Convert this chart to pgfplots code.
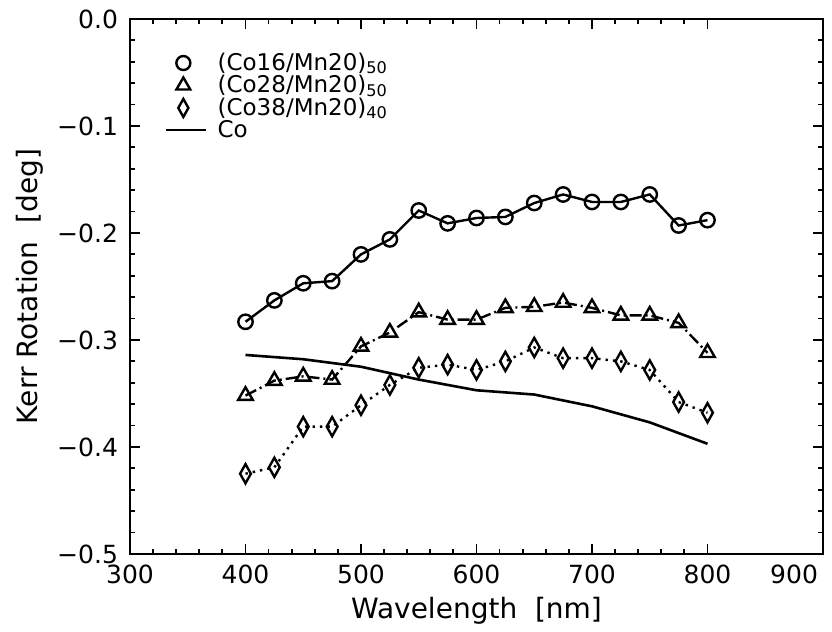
\documentclass[border=0pt]{standalone}
\usepackage{fontspec}
\setmainfont{DejaVu Sans}
\usepackage{pgfplots}
\pgfplotsset{compat=1.18}
\usetikzlibrary{calc}

\begin{document}
\begin{tikzpicture}
\begin{axis}[
  scale only axis,
  width=346.5pt, height=267.5pt,
  xmin=300, xmax=900, ymin=-0.5, ymax=0,
  xtick={300,400,500,600,700,800},
  xticklabels={300,400,500,600,700,800},
  extra x ticks={900},
  extra x tick labels={900},
  extra x tick style={xticklabel style={anchor=north east, xshift=1pt}},
  ytick={-0.5,-0.4,-0.3,-0.2,-0.1,0},
  yticklabels={−0.5,−0.4,−0.3,−0.2,−0.1,0.0},
  minor x tick num=4, minor y tick num=4,
  tick align=inside,
  major tick length=5pt, minor tick length=2.5pt,
  every tick/.style={black, line width=0.9pt},
  axis line style={line width=1.1pt},
  tick label style={font=\fontsize{12.5}{14}\selectfont},
  xticklabel style={yshift=-2pt},
  yticklabel style={xshift=-2.5pt},
  xlabel={Wavelength\ \ [nm]},
  ylabel={Kerr Rotation\ \ [deg]},
  xlabel style={font=\fontsize{14}{16}\selectfont, at={(axis description cs:0.5,0)}, anchor=center, yshift=-28.5pt},
  ylabel style={font=\fontsize{14}{16}\selectfont, at={(axis description cs:-0.144,0.5)}, anchor=center},
  legend style={draw=none, fill=none, at={(axis description cs:0.05,0.945)}, anchor=north west,
    font=\fontsize{11.5}{12}\selectfont, row sep=-3pt, inner sep=0pt},
  legend cell align=left,
  legend image code/.code={\draw[mark repeat=2,mark phase=2] plot coordinates {(0pt,0pt) (8.5pt,0pt) (20pt,0pt)};},
]

% legend entries
\addlegendimage{only marks, black, mark=o, mark size=3.5pt, mark options={line width=1.2pt}}
\addlegendentry{\hspace{3pt}(Co16/Mn20)\textsubscript{50}}
\addlegendimage{only marks, black, mark=triangle, mark size=4pt, mark options={line width=1.2pt}}
\addlegendentry{\hspace{3pt}(Co28/Mn20)\textsubscript{50}}
\addlegendimage{only marks, black, mark=diamond, mark size=4.5pt, mark options={line width=1.2pt, xscale=0.75}}
\addlegendentry{\hspace{3pt}(Co38/Mn20)\textsubscript{40}}
\addlegendimage{black, line width=1.3pt}
\addlegendentry{\hspace{3pt}Co}

% (Co16/Mn20)50
\addplot[forget plot, black, line width=1.2pt, mark=o, mark size=3.6pt, mark options={solid, line width=1.2pt}] coordinates {
(400,-0.283) (425,-0.263) (450,-0.247) (475,-0.245) (500,-0.220) (525,-0.206)
(550,-0.179) (575,-0.191) (600,-0.186) (625,-0.185) (650,-0.172) (675,-0.164)
(700,-0.171) (725,-0.171) (750,-0.164) (775,-0.193) (800,-0.188)
};

% (Co28/Mn20)50
\addplot[forget plot, black, line width=1.2pt, dash pattern=on 6pt off 2pt on 1pt off 2pt,
  mark=triangle, mark size=4.2pt, mark options={solid, line width=1.2pt}] coordinates {
(400,-0.352) (425,-0.338) (450,-0.334) (475,-0.337) (500,-0.306) (525,-0.293)
(550,-0.274) (575,-0.281) (600,-0.281) (625,-0.270) (650,-0.269) (675,-0.265)
(700,-0.270) (725,-0.277) (750,-0.277) (775,-0.284) (800,-0.312)
};

% (Co38/Mn20)40
\addplot[forget plot, black, line width=1.2pt, dash pattern=on 1.2pt off 2.5pt,
  mark=diamond, mark size=4.8pt, mark options={solid, line width=1.2pt, xscale=0.75}] coordinates {
(400,-0.425) (425,-0.419) (450,-0.381) (475,-0.381) (500,-0.361) (525,-0.342)
(550,-0.326) (575,-0.323) (600,-0.328) (625,-0.320) (650,-0.307) (675,-0.317)
(700,-0.317) (725,-0.320) (750,-0.328) (775,-0.358) (800,-0.368)
};

% Co
\addplot[forget plot, black, line width=1.3pt] coordinates {
(400,-0.314) (450,-0.318) (500,-0.325) (525,-0.331) (550,-0.337) (575,-0.342)
(600,-0.347) (650,-0.351) (700,-0.362) (750,-0.377) (800,-0.397)
};
\end{axis}
\pgfresetboundingbox
\path ($(current axis.south west)+(-65pt,-39pt)$) rectangle ($(current axis.north east)+(4.5pt,9.5pt)$);
\end{tikzpicture}
\end{document}
